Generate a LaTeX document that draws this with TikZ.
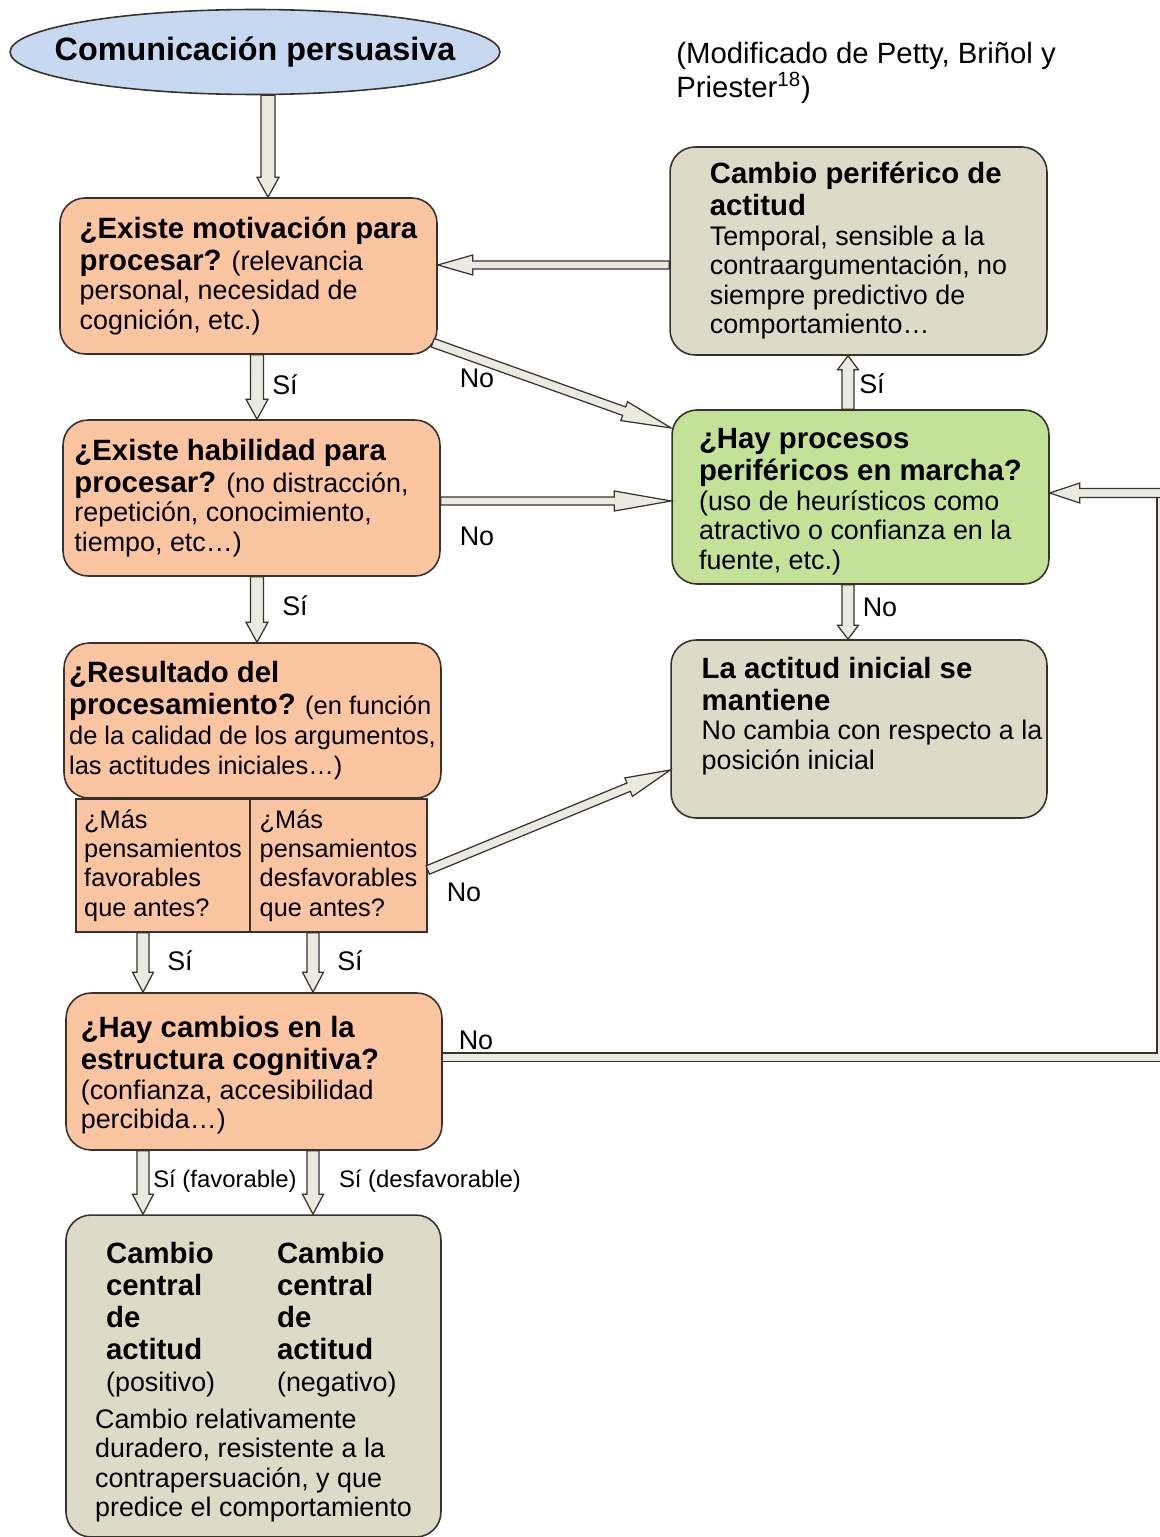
\documentclass[tikz,border=0pt]{standalone}
\usepackage{fontspec}
\setmainfont{Liberation Sans}
\usetikzlibrary{shapes.geometric,calc}

\definecolor{persblue}{RGB}{198,217,241}
\definecolor{qorange}{RGB}{250,197,160}
\definecolor{resgrey}{RGB}{222,218,200}
\definecolor{periphgreen}{RGB}{195,226,152}
\definecolor{arrowfill}{RGB}{234,234,224}
\definecolor{edgegrey}{RGB}{55,50,45}

\newcommand{\bodysize}{\fontsize{15.3}{16.8}\selectfont}
\newcommand{\hd}[1]{{\fontsize{16.7}{18}\selectfont\bfseries #1}}
\newcommand{\twocol}[2]{\hspace*{2.2mm}\makebox[34.2mm][l]{#1}#2}
\newcommand{\padbox}[1]{\makebox[#1]{}}

% shaft half width, head half width, head length, from, to
\newcommand{\blockarrow}[5]{%
  \coordinate (bah) at ($(#5)!#3!(#4)$);
  \draw[blockarr] ($(#4)!#1!90:(#5)$) -- ($(bah)!#1!90:(#5)$) -- ($(bah)!#2!90:(#5)$) -- (#5)
     -- ($(bah)!#2!-90:(#5)$) -- ($(bah)!#1!-90:(#5)$) -- ($(#4)!#1!-90:(#5)$) -- cycle;}

\begin{document}
\begin{tikzpicture}[x=0.02cm,y=-0.02cm,
  qbox/.style={draw=edgegrey,line width=0.9pt,rounded corners=5mm,fill=qorange,align=left,inner sep=0pt,font=\bodysize},
  rbox/.style={qbox,fill=resgrey},
  cellbox/.style={draw=edgegrey,line width=0.9pt,fill=qorange,align=left,inner sep=0pt,font=\fontsize{14.4}{16.7}\selectfont,minimum height=26.6mm},
  blockarr/.style={draw=edgegrey,fill=arrowfill,line width=0.7pt,line join=miter},
  fbline/.style={draw=edgegrey,double=arrowfill,double distance=1.4mm,line width=0.7pt},
  lab/.style={font=\bodysize,inner sep=0pt}]
\useasboundingbox (0,0) rectangle (1159,1537);

%%% left column %%%
  \node (Pers) at (255,52) [draw=edgegrey,line width=0.9pt,ellipse,fill=persblue,minimum width=98mm,minimum height=17mm,inner sep=0pt,font=\fontsize{18.4}{20}\selectfont\bfseries] {\makebox[0pt]{Comunicación persuasiva}};

  \node (Mot) at (248.5,276) [qbox,minimum width=75.4mm,minimum height=31.2mm]
    {\hd{¿Existe motivación para}\\[1.4pt]
     \hd{procesar?} (relevancia\\
     personal, necesidad de\\
     cognición, etc.)};
  \node (Hab) at (251.5,498) [qbox,minimum width=75.4mm,minimum height=31.2mm]
    {\hd{¿Existe habilidad para}\\[1.4pt]
     \hd{procesar?} (no distracción,\padbox{4mm}\\
     repetición, conocimiento,\\
     tiempo, etc…)};
  \node (Res) at (252.5,720.5) [qbox,minimum width=75.4mm,minimum height=31mm,font=\fontsize{14.5}{16.8}\selectfont]
    {\hd{¿Resultado del}\\[1.4pt]
     \hd{procesamiento?} (en función\\
     de la calidad de los argumentos,\\
     las actitudes iniciales…)};
  \node (Fav) at (163,865.5) [cellbox,minimum width=34.8mm]
    {¿Más\\pensamientos\\favorables\\que antes?};
  \node (Desf) at (338.5,865.5) [cellbox,minimum width=35.4mm]
    {¿Más\\pensamientos\\desfavorables\\que antes?};
  \node (Estr) at (254,1071.5) [qbox,minimum width=75.2mm,minimum height=31.4mm]
    {\mbox{}\\[0pt]
     \hd{¿Hay cambios en la}\\[1.4pt]
     \hd{estructura cognitiva?}\padbox{9.6mm}\\
     (confianza, accesibilidad\\
     percibida…)};
  \node (Cent) at (253.5,1376) [rbox,minimum width=75mm,minimum height=64.4mm]
    {\mbox{}\\[2.5pt]
     \twocol{\hd{Cambio}}{\hd{Cambio}}\\[1.4pt]
     \twocol{\hd{central}}{\hd{central}}\\[1.4pt]
     \twocol{\hd{de}}{\hd{de}}\\[1.4pt]
     \twocol{\hd{actitud}}{\hd{actitud}}\\[1.4pt]
     \twocol{(positivo)}{(negativo)}\\[4pt]
     Cambio relativamente\\
     duradero, resistente a la\\
     contrapersuación, y que\\
     predice el comportamiento};

%%% right column %%%
  \node (Note) at (676,73) [anchor=west,align=left,inner sep=0pt,font=\fontsize{16.7}{17.6}\selectfont]
    {(Modificado de Petty, Briñol y\\Priester\textsuperscript{18})};

  \node (Perif) at (858.5,251) [rbox,minimum width=75.4mm,minimum height=41.6mm]
    {\hd{Cambio periférico de}\\[1.4pt]
     \hd{actitud}\\
     Temporal, sensible a la\\
     contraargumentación, no\\
     siempre predictivo de\\
     comportamiento…};
  \node (Proc) at (860.5,497) [qbox,fill=periphgreen,minimum width=75.4mm,minimum height=34.8mm]
    {\mbox{}\\[0pt]
     \hd{¿Hay procesos}\\[1.4pt]
     \hd{periféricos en marcha?}\\
     (uso de heurísticos como\\
     atractivo o confianza en la\\
     fuente, etc.)};
  \node (Mant) at (859,729) [rbox,minimum width=75.2mm,minimum height=35.6mm]
    {\padbox{5.2mm}\hd{La actitud inicial se}\\[1.4pt]
     \padbox{5.2mm}\hd{mantiene}\\
     \padbox{5.2mm}No cambia con respecto a la\\
     \padbox{5.2mm}posición inicial\\[1pt]
     \mbox{}};

%%% arrows %%%
  \coordinate (MotNo) at ($(Mot.south east)+(-5,-12)$);
  \coordinate (FbTop) at (1161,493);

  \blockarrow{1.4mm}{2.2mm}{4mm}{Pers.south -| 268,0}{Mot.north -| 268,0}
  \blockarrow{1.3mm}{2.2mm}{4mm}{Mot.south -| 257,0}{Hab.north -| 257,0}
  \blockarrow{0.9mm}{2mm}{10mm}{MotNo}{Proc.west |- 0,428}
  \blockarrow{0.8mm}{2mm}{11.4mm}{Hab.east |- 0,501}{Proc.west |- 0,501}
  \blockarrow{1.3mm}{2.2mm}{4mm}{Hab.south -| 257,0}{Res.north -| 257,0}
  \blockarrow{0.9mm}{2mm}{9mm}{Desf.east |- 0,870}{Mant.west |- 0,770}
  \blockarrow{1.2mm}{2.1mm}{4mm}{Fav.south -| 143,0}{Estr.north -| 143,0}
  \blockarrow{1.2mm}{2.1mm}{4mm}{Desf.south -| 313,0}{Estr.north -| 313,0}
  \blockarrow{1.2mm}{2.1mm}{4mm}{Estr.south -| 143,0}{Cent.north -| 143,0}
  \blockarrow{1.2mm}{2.1mm}{4mm}{Estr.south -| 313,0}{Cent.north -| 313,0}
  \blockarrow{1.2mm}{2.1mm}{2.8mm}{Proc.north -| 848,0}{Perif.south -| 848,0}
  \blockarrow{1.2mm}{2.1mm}{2.8mm}{Proc.south -| 848,0}{Mant.north -| 848,0}
  \blockarrow{0.8mm}{2mm}{7mm}{Perif.west |- 0,265}{Mot.east |- 0,265}

  \draw[fbline] (Estr.east |- 0,1057) -| (FbTop);
  \blockarrow{0.9mm}{2mm}{6mm}{FbTop}{Proc.east |- 0,493}

%%% labels %%%
  \node (SiA) at (285,385) [lab] {Sí};
  \node (NoA) at (477,378) [lab] {No};
  \node (NoB) at (477,536) [lab] {No};
  \node (SiB) at (295,606) [lab] {Sí};
  \node (NoC) at (464,892) [lab] {No};
  \node (SiC) at (180,961) [lab] {Sí};
  \node (SiD) at (350,961) [lab] {Sí};
  \node (SiFav) at (225,1181) [lab,font=\fontsize{13.6}{15}\selectfont] {Sí (favorable)};
  \node (SiDesf) at (430,1181) [lab,font=\fontsize{13.6}{15}\selectfont] {Sí (desfavorable)};
  \node (SiE) at (872,384) [lab] {Sí};
  \node (NoD) at (880,607) [lab] {No};
  \node (NoE) at (476,1040) [lab] {No};
\end{tikzpicture}
\end{document}
